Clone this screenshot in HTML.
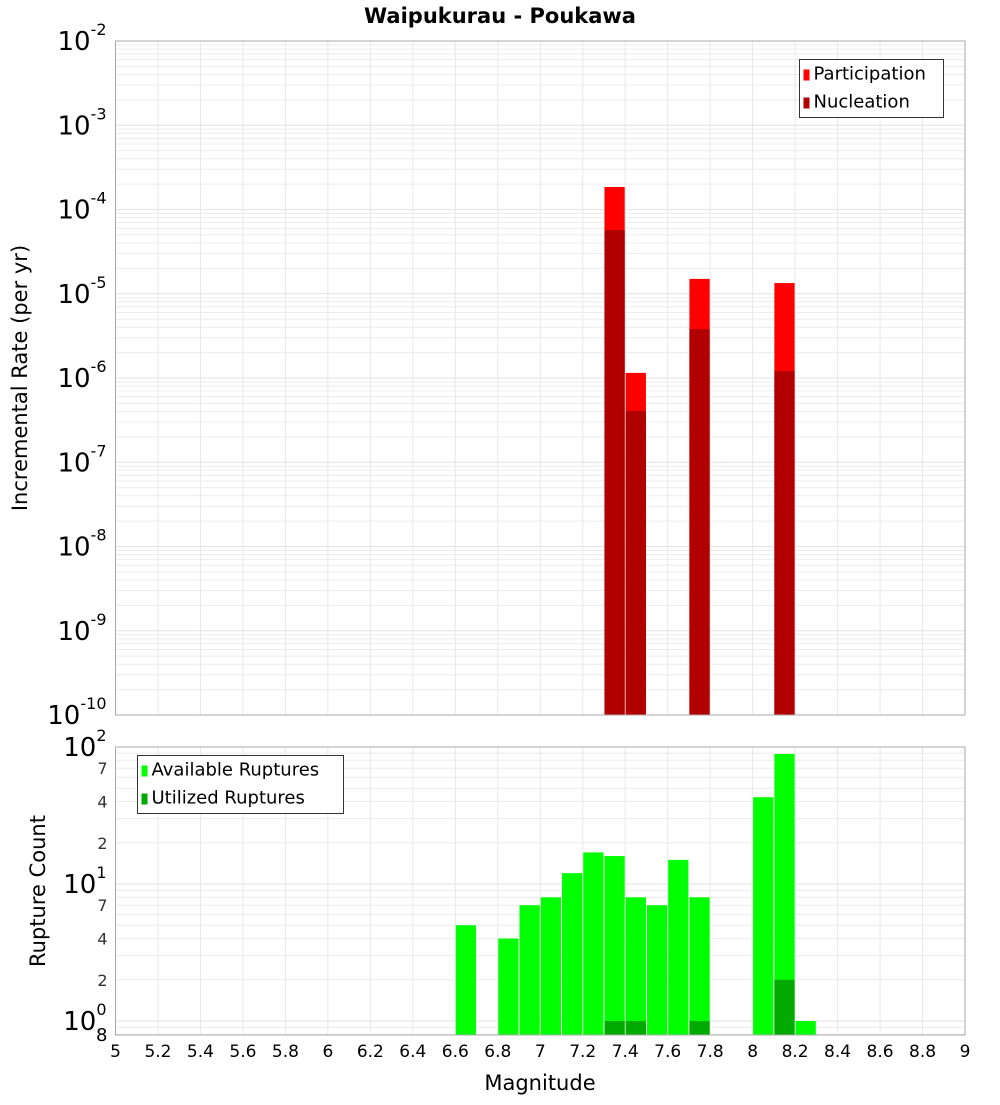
<!DOCTYPE html>
<html><head><meta charset="utf-8"><style>
body{margin:0;background:#fff;font-family:"Liberation Sans","DejaVu Sans",sans-serif}
svg text{font-family:"DejaVu Sans","Liberation Sans",sans-serif}
</style></head><body>
<svg id="c" width="1000" height="1100" xmlns="http://www.w3.org/2000/svg"></svg>
<script>
const bins = [7.35, 7.45, 7.75, 8.15];
const participation = [1.85e-4, 1.15e-6, 1.5e-5, 1.34e-5];
const nucleation = [5.7e-5, 4.06e-7, 3.8e-6, 1.21e-6];
const countBins = [6.65, 6.85, 6.95, 7.05, 7.15, 7.25, 7.35, 7.45, 7.55, 7.65, 7.75, 8.05, 8.15, 8.25];
const available = [5, 4, 7, 8, 12, 17, 16, 8, 7, 15, 8, 43, 89, 1];
const utilizedBins = [7.35, 7.45, 7.75, 8.15];
const utilized = [1, 1, 1, 2];
const xTicks = ["5","5.2","5.4","5.6","5.8","6","6.2","6.4","6.6","6.8","7","7.2","7.4","7.6","7.8","8","8.2","8.4","8.6","8.8","9"];
const topExp = [-2,-3,-4,-5,-6,-7,-8,-9,-10];
const botExp = [2,1,0];

const NS="http://www.w3.org/2000/svg", svg=document.getElementById('c');
function mk(tag,attrs,parent,text){const e=document.createElementNS(NS,tag);for(const k in attrs)e.setAttribute(k,attrs[k]);if(text!==undefined)e.textContent=text;(parent||svg).appendChild(e);return e;}
const L=115.5,R=965,xs=v=>L+(v-5)*(R-L)/4;
const T1=41,B1=715,ys1=v=>T1+(-2-Math.log10(v))*(B1-T1)/8;
const T2=747,B2=1035,ys2=v=>1021-137*Math.log10(v);
const bw=(R-L)/40;

// title
let t=mk('text',{x:500,y:23,'text-anchor':'middle','font-size':21,'font-weight':'bold'},svg,'Waipukurau - Poukawa');


function grid(T,B,ys,lo,hi,name){
  const g=mk('g',{});
  for(let e=lo;e<=hi;e++)for(let m=1;m<10;m++){const v=m*Math.pow(10,e);const y=ys(v);if(y<T-0.5||y>B+0.5)continue;
    mk('line',{x1:L,x2:R,y1:y,y2:y,stroke:m==1?'#e2e2e2':'#ececec','stroke-width':1},g);}
  for(let i=0;i<xTicks.length;i++){const x=xs(+xTicks[i]);mk('line',{x1:x,x2:x,y1:T,y2:B,stroke:'#e8e8e8'},g);}
}
grid(T1,B1,ys1,-10,-2,'top-grid');
grid(T2,B2,ys2,-1,2,'bottom-grid');

// top bars
for(let i=0;i<bins.length;i++){
  let r=mk('rect',{x:xs(bins[i])-bw/2+0.5,y:ys1(participation[i]),width:bw-1,height:B1-ys1(participation[i]),fill:'#ff0000'});
  
  r=mk('rect',{x:xs(bins[i])-bw/2+0.5,y:ys1(nucleation[i]),width:bw-1,height:B1-ys1(nucleation[i]),fill:'#b00000'});
  
}
// bottom bars
for(let i=0;i<countBins.length;i++){
  const r=mk('rect',{x:xs(countBins[i])-bw/2+0.5,y:ys2(available[i]),width:bw-1,height:B2-ys2(available[i]),fill:'#00ff00'});
  
}
for(let i=0;i<utilizedBins.length;i++){
  const r=mk('rect',{x:xs(utilizedBins[i])-bw/2+0.5,y:ys2(utilized[i]),width:bw-1,height:B2-ys2(utilized[i]),fill:'#00aa00'});
  
}
// frames
let f=mk('rect',{x:L,y:T1,width:R-L,height:B1-T1,fill:'none',stroke:'#aaa'});

f=mk('rect',{x:L,y:T2,width:R-L,height:B2-T2,fill:'none',stroke:'#aaa'});


// y tick labels
function expLabel(y,e,name){
  const tx=mk('text',{x:L-9,y:y+9,'text-anchor':'end','font-size':26});
  
  const a=mk('tspan',{},tx,'10');
  mk('tspan',{dy:-15,'font-size':16},tx,String(e));
}
topExp.forEach(e=>expLabel(ys1(Math.pow(10,e)),e,'y-tick-top'));
botExp.forEach(e=>expLabel(ys2(Math.pow(10,e)),e,'y-tick-bottom'));
const minor=[2,4,7];
[0,1].forEach(e=>minor.forEach(m=>{const tx=mk('text',{x:L-8,y:ys2(m*Math.pow(10,e))+6,'text-anchor':'end','font-size':16,fill:'#333'},svg,String(m));
  }));
t=mk('text',{x:L-8,y:1041,'text-anchor':'end','font-size':18},svg,'8');


// x ticks
xTicks.forEach(s=>{const tx=mk('text',{x:xs(+s),y:1057,'text-anchor':'middle','font-size':17},svg,s);
  });
t=mk('text',{x:540,y:1090,'text-anchor':'middle','font-size':21},svg,'Magnitude');

t=mk('text',{x:27,y:378,'text-anchor':'middle','font-size':21,transform:'rotate(-90 27 378)'},svg,'Incremental Rate (per yr)');

t=mk('text',{x:45,y:891,'text-anchor':'middle','font-size':21,transform:'rotate(-90 45 891)'},svg,'Rupture Count');


// legends
function legend(x,y,w,items,name){
  const g=mk('g',{});
  mk('rect',{x:x,y:y,width:w,height:58,fill:'#fff',stroke:'#333'},g);
  items.forEach((it,i)=>{mk('rect',{x:x+4,y:y+10+i*28,width:6,height:11,fill:it[1]},g);
    const tx=mk('text',{x:x+14,y:y+20+i*28,'font-size':18},g,it[0]);
    });
}
legend(799.5,59.5,144,[['Participation','#ff0000'],['Nucleation','#b00000']],'top-legend');
legend(137.5,755.5,206,[['Available Ruptures','#00ff00'],['Utilized Ruptures','#00aa00']],'bottom-legend');
</script>
</body></html>
